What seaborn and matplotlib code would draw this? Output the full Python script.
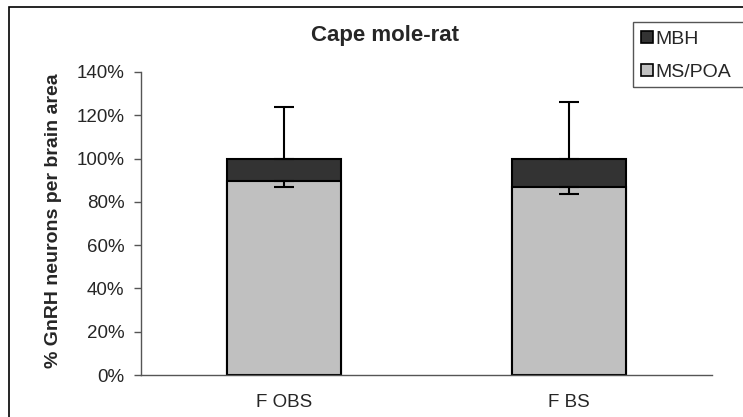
import matplotlib
matplotlib.use("Agg")
import matplotlib.pyplot as plt
import seaborn as sns
import pandas as pd
from matplotlib.patches import Rectangle, Patch
from matplotlib.ticker import FuncFormatter, FixedLocator

categories = ["F OBS", "F BS"]
ms_poa = [89.5, 87.0]
mbh = [10.5, 13.0]
ms_poa_err_low = [2.5, 3.5]
mbh_err_high = [24.0, 26.0]
series_names = ["MBH", "MS/POA"]
colors = {"MBH": "#333333", "MS/POA": "#c0c0c0"}

sns.set_theme(style="white")
plt.rcParams["font.family"] = ["Liberation Sans", "DejaVu Sans"]

W, H = 743, 417
fig = plt.figure(figsize=(W/100, H/100), dpi=100)
ax = fig.add_axes([141/W, 1-375/H, (712-141)/W, (375-72)/H])

totals = [a + b for a, b in zip(ms_poa, mbh)]
df_tot = pd.DataFrame({"cat": categories, "val": totals})
df_ms = pd.DataFrame({"cat": categories, "val": ms_poa})

sns.barplot(data=df_tot, x="cat", y="val", color=colors["MBH"], width=0.4,
            edgecolor="black", linewidth=1.5, saturation=1, ax=ax, errorbar=None)
sns.barplot(data=df_ms, x="cat", y="val", color=colors["MS/POA"], width=0.4,
            edgecolor="black", linewidth=1.5, saturation=1, ax=ax, errorbar=None)

xs = list(range(len(categories)))
ax.errorbar(xs, totals, yerr=[[0]*len(xs), mbh_err_high], fmt="none",
            ecolor="black", elinewidth=1.5, capsize=7, capthick=1.5, zorder=5)
ax.errorbar(xs, ms_poa, yerr=[ms_poa_err_low, [0]*len(xs)], fmt="none",
            ecolor="black", elinewidth=1.5, capsize=7, capthick=1.5, zorder=5)

ax.set_ylim(0, 140)
ax.set_xlim(-0.5, 1.5)
ax.set_yticks(range(0, 141, 20))
ax.yaxis.set_major_formatter(FuncFormatter(lambda v, p: f"{int(v)}%"))
ax.set_xticks(xs)
ax.set_xticklabels(categories, fontsize=13.5)
ax.xaxis.set_minor_locator(FixedLocator([-0.5, 0.5, 1.5]))
ax.tick_params(axis="x", which="major", length=0, pad=14)
ax.tick_params(axis="x", which="minor", length=5, width=1, color="#555555", direction="out")
ax.tick_params(axis="y", length=5, width=1, color="#555555", direction="out", labelsize=13.5, pad=7, left=True)
for s in ["top", "right"]:
    ax.spines[s].set_visible(False)
for s in ["left", "bottom"]:
    ax.spines[s].set_color("#555555")
    ax.spines[s].set_linewidth(1)
ax.set_xlabel("")
ax.set_ylabel("")
fig.text(54/W, 1-221/H, "% GnRH neurons per brain area", rotation=90, ha="center", va="center",
         fontsize=14, fontweight="bold")
fig.text(385/W, 1-36/H, "Cape mole-rat", ha="center", va="center", fontsize=16, fontweight="bold")

handles = [Patch(facecolor=colors[n], edgecolor="black", linewidth=1.2, label=n) for n in series_names]
leg = fig.legend(handles=handles, loc="upper left", bbox_to_anchor=(637/W, 1-27/H),
                 fontsize=14, frameon=False, handlelength=0.6, handleheight=0.6,
                 handletextpad=0.15, borderpad=0.2, labelspacing=0.82, borderaxespad=0)
fig.patches.append(Rectangle((633/W, 1-87/H), 130/W, 65/H, transform=fig.transFigure,
                             fill=False, edgecolor="#555555", linewidth=1))

fig.patches.append(Rectangle((8.5/W, -0.02), 1.1, 1 - 7/H + 0.02, transform=fig.transFigure,
                             fill=False, edgecolor="black", linewidth=1.2))

fig.savefig("out.png", dpi=100)
